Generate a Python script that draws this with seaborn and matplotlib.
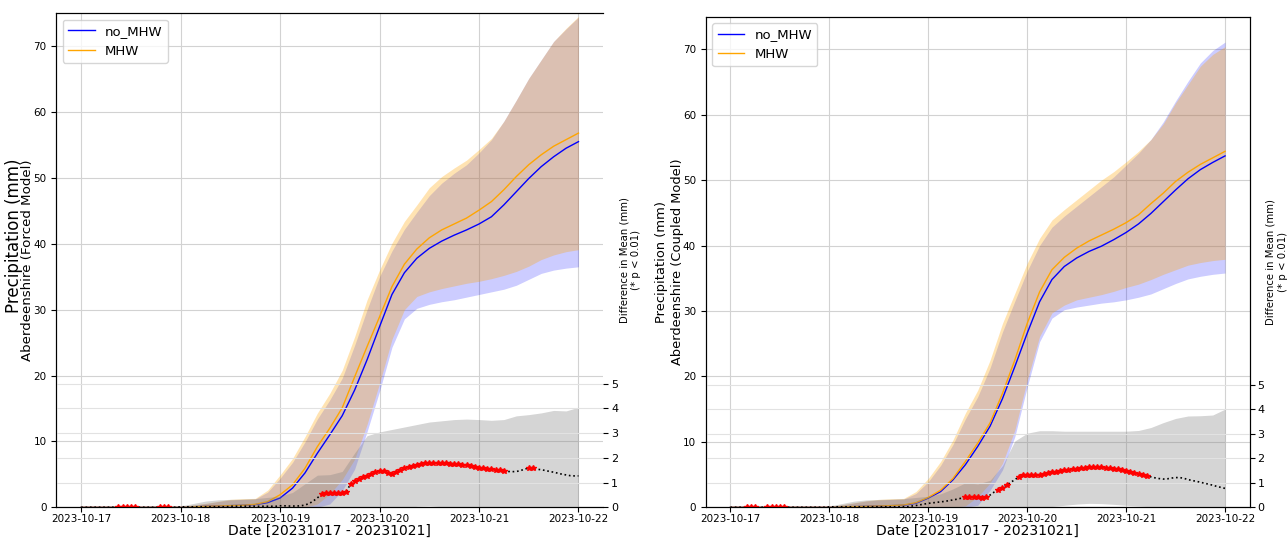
import numpy as np
import pandas as pd
import matplotlib
matplotlib.use('Agg')
import matplotlib.pyplot as plt
import matplotlib.dates as mdates
import seaborn as sns

# time axes: 3-hourly for the ensemble curves, hourly for the difference series
times_3h = pd.date_range('2023-10-17 00:00', '2023-10-22 00:00', freq='3h')
times_1h = pd.date_range('2023-10-17 00:00', '2023-10-22 00:00', freq='h')

Z8 = [0.0] * 8  # 10-17 00:00 .. 10-17 21:00, nothing accumulated yet

# ---- Forced model (left) ----
forced_nomhw_mean = Z8 + [0.0, 0.05, 0.15, 0.2, 0.25, 0.3, 0.4, 0.7,
                          1.4, 2.9, 5.2, 8.2, 11.0, 13.9, 17.8, 22.4,
                          27.4, 32.3, 35.6, 37.8, 39.3, 40.4, 41.3, 42.1,
                          43.0, 44.1, 45.9, 47.9, 49.9, 51.7, 53.2, 54.5, 55.5]
forced_nomhw_lo = Z8 + [0.0, 0.0, 0.0, 0.0, 0.0, 0.0, 0.0, 0.0,
                        0.0, 0.0, 0.0, 0.0, 0.5, 2.5, 5.8, 11.5,
                        17.6, 24.3, 28.6, 30.2, 30.8, 31.2, 31.5, 31.9,
                        32.3, 32.7, 33.1, 33.7, 34.6, 35.5, 36.0, 36.3, 36.5]
forced_nomhw_hi = Z8 + [0.1, 0.3, 0.55, 0.85, 1.1, 1.2, 1.25, 2.3,
                        4.4, 6.8, 9.9, 13.4, 16.3, 19.6, 24.6, 30.0,
                        35.0, 38.9, 42.2, 44.8, 47.3, 49.2, 50.7, 52.0,
                        53.8, 55.8, 58.6, 61.8, 65.1, 67.9, 70.7, 72.6, 74.4]
forced_mhw_mean = Z8 + [0.0, 0.05, 0.15, 0.2, 0.25, 0.3, 0.45, 0.85,
                        1.9, 3.4, 5.9, 9.2, 12.0, 15.1, 19.8, 24.4,
                        28.9, 33.5, 36.9, 39.2, 40.9, 42.1, 43.0, 43.9,
                        45.1, 46.4, 48.2, 50.2, 52.0, 53.5, 54.8, 55.8, 56.8]
forced_mhw_lo = Z8 + [0.0, 0.0, 0.0, 0.0, 0.0, 0.0, 0.0, 0.0,
                      0.0, 0.0, 0.0, 0.5, 2.0, 4.2, 7.3, 12.6,
                      18.8, 25.5, 30.0, 32.0, 32.7, 33.2, 33.6, 34.0,
                      34.3, 34.7, 35.2, 35.8, 36.6, 37.6, 38.3, 38.8, 39.1]
forced_mhw_hi = Z8 + [0.1, 0.35, 0.6, 0.9, 1.2, 1.3, 1.35, 2.6,
                      4.9, 7.4, 10.7, 14.3, 17.3, 20.8, 25.9, 31.5,
                      36.0, 40.1, 43.4, 45.9, 48.5, 50.2, 51.5, 52.7,
                      54.3, 56.0, 58.6, 61.8, 65.1, 67.9, 70.7, 72.7, 74.5]
forced_diff_lo = Z8 + [-0.3, -0.3, -0.3, -0.3, -0.3, -0.3, -0.3, -0.3,
                       -0.3, -0.3, -0.3, -0.3, -0.3, -0.3, -0.3, -0.3,
                       -0.3, -0.3, -0.05, 0.04, 0.06, 0.02, -0.1, -0.3,
                       -0.3, -0.3, -0.3, -0.3, -0.3, -0.3, -0.3, -0.3, -0.3]
forced_diff_hi = Z8 + [0.05, 0.15, 0.25, 0.3, 0.32, 0.33, 0.35, 0.4,
                       0.45, 0.6, 0.95, 1.3, 1.32, 1.45, 2.2, 2.9,
                       3.05, 3.15, 3.25, 3.35, 3.45, 3.5, 3.55, 3.57,
                       3.55, 3.52, 3.55, 3.7, 3.75, 3.82, 3.92, 3.9, 4.05]
forced_diff = ([0.0] * 24 + [0.02] * 12 + [0.04] * 12
               + [0.06, 0.06, 0.05, 0.05, 0.05, 0.06, 0.09, 0.15, 0.25, 0.38]
               + [0.52, 0.56, 0.58, 0.58, 0.57, 0.58, 0.62]
               + [0.95, 1.05, 1.15, 1.22, 1.26, 1.33, 1.42, 1.48, 1.45, 1.38,
                  1.36, 1.42, 1.50, 1.58, 1.64]
               + [1.69, 1.73, 1.76, 1.78, 1.79, 1.80, 1.80, 1.79, 1.78, 1.77,
                  1.76, 1.74, 1.72, 1.70, 1.67, 1.64]
               + [1.60, 1.58, 1.55, 1.53, 1.51, 1.49, 1.47, 1.45, 1.44, 1.45,
                  1.48, 1.55, 1.58, 1.57, 1.54, 1.52, 1.49, 1.45, 1.42, 1.38,
                  1.34, 1.31, 1.28, 1.27, 1.27])
forced_sig = [(9, 13), (19, 21), (58, 102), (108, 109)]

# ---- Coupled model (right) ----
coupled_nomhw_mean = Z8 + [0.0, 0.05, 0.1, 0.15, 0.2, 0.25, 0.3, 0.6,
                           1.4, 2.4, 4.2, 6.5, 9.3, 12.4, 16.6, 21.5,
                           26.6, 31.4, 34.8, 36.8, 38.1, 39.1, 39.9, 40.9,
                           42.0, 43.3, 44.9, 46.7, 48.5, 50.2, 51.6, 52.7, 53.7]
coupled_nomhw_lo = Z8 + [0.0, 0.0, 0.0, 0.0, 0.0, 0.0, 0.0, 0.0,
                         0.0, 0.0, 0.0, 0.0, 0.3, 2.6, 5.7, 10.8,
                         18.4, 25.3, 28.9, 30.2, 30.6, 30.9, 31.2, 31.4,
                         31.7, 32.1, 32.6, 33.4, 34.2, 34.9, 35.3, 35.6, 35.8]
coupled_nomhw_hi = Z8 + [0.1, 0.35, 0.65, 0.95, 1.1, 1.2, 1.25, 2.1,
                         3.9, 6.4, 9.6, 13.5, 16.9, 21.3, 26.8, 31.5,
                         36.1, 40.0, 42.8, 44.5, 46.0, 47.5, 49.0, 50.5,
                         52.3, 54.1, 56.2, 58.9, 62.1, 65.1, 67.9, 69.8, 71.1]
coupled_mhw_mean = Z8 + [0.0, 0.05, 0.1, 0.15, 0.2, 0.25, 0.35, 0.7,
                         1.5, 2.6, 4.4, 7.0, 9.8, 12.9, 17.4, 22.5,
                         28.1, 32.9, 36.3, 38.2, 39.6, 40.7, 41.6, 42.5,
                         43.5, 44.7, 46.4, 48.0, 49.8, 51.2, 52.4, 53.4, 54.4]
coupled_mhw_lo = Z8 + [0.0, 0.0, 0.0, 0.0, 0.0, 0.0, 0.0, 0.0,
                       0.0, 0.0, 0.0, 0.2, 1.6, 3.7, 6.7, 11.8,
                       19.4, 26.1, 29.7, 30.9, 31.7, 32.1, 32.5, 33.0,
                       33.6, 34.1, 34.8, 35.6, 36.3, 37.0, 37.4, 37.7, 37.9]
coupled_mhw_hi = Z8 + [0.1, 0.4, 0.7, 1.0, 1.2, 1.3, 1.35, 2.4,
                       4.4, 7.0, 10.3, 14.4, 17.9, 22.5, 28.1, 32.7,
                       37.3, 41.1, 43.9, 45.5, 47.0, 48.5, 50.0, 51.3,
                       52.8, 54.4, 56.2, 58.6, 61.8, 64.6, 67.4, 69.2, 70.4]
coupled_diff_lo = Z8 + [-0.3, -0.3, -0.3, -0.3, -0.3, -0.3, -0.3, -0.3,
                        -0.3, -0.3, -0.3, -0.3, -0.3, -0.3, -0.3, -0.3,
                        -0.3, -0.1, 0.03, 0.08, 0.13, 0.16, 0.15, 0.12,
                        0.08, 0.05, 0.02, -0.05, -0.3, -0.3, -0.3, -0.3, -0.3]
coupled_diff_hi = Z8 + [0.05, 0.15, 0.25, 0.3, 0.32, 0.33, 0.35, 0.4,
                        0.45, 0.55, 0.75, 1.0, 0.95, 1.1, 1.7, 2.7,
                        3.02, 3.12, 3.12, 3.1, 3.1, 3.1, 3.1, 3.1,
                        3.1, 3.13, 3.25, 3.45, 3.62, 3.72, 3.73, 3.76, 4.0]
coupled_diff = ([0.0] * 24 + [0.02] * 20
                + [0.05, 0.07, 0.10, 0.13, 0.16, 0.18, 0.20, 0.22, 0.24, 0.27,
                   0.30, 0.33, 0.37]
                + [0.40, 0.42, 0.43, 0.40, 0.38, 0.40]
                + [0.50, 0.62, 0.70, 0.80, 0.90, 1.02, 1.12]
                + [1.25, 1.31, 1.33, 1.33, 1.32, 1.33, 1.36, 1.39, 1.42, 1.44]
                + [1.47, 1.50, 1.53, 1.56, 1.58, 1.60, 1.62, 1.63, 1.63, 1.63,
                   1.63, 1.62, 1.60, 1.58, 1.56, 1.53]
                + [1.48, 1.44, 1.40, 1.36, 1.32, 1.27, 1.24, 1.20, 1.17, 1.15,
                   1.16, 1.19, 1.21, 1.21, 1.18, 1.13, 1.09, 1.06, 1.02, 0.98,
                   0.94, 0.90, 0.85, 0.81, 0.77])
coupled_sig = [(4, 6), (9, 13), (57, 62), (65, 67), (70, 101)]


def draw_panel(ax, nomhw, nomhw_lo, nomhw_hi, mhw, mhw_lo, mhw_hi,
               diff, diff_lo, diff_hi, sig):
    ax.set_axisbelow(True)
    ax.fill_between(times_3h, nomhw_lo, nomhw_hi, color='blue', alpha=0.2, lw=0)
    ax.fill_between(times_3h, mhw_lo, mhw_hi, color='orange', alpha=0.3, lw=0)
    sns.lineplot(x=times_3h, y=nomhw, color='blue', lw=1, label='no_MHW', ax=ax)
    sns.lineplot(x=times_3h, y=mhw, color='orange', lw=1, label='MHW', ax=ax)
    ax.set_ylim(0, 75)
    ax.set_yticks(range(0, 71, 10))
    ax.grid(True, color='#d2d2d2', lw=0.8)
    ax.legend(loc='upper left', fontsize=9.5)

    ax2 = ax.twinx()
    ax2.fill_between(times_3h, diff_lo, diff_hi, color='grey', alpha=0.33, lw=0)
    sns.lineplot(x=times_1h, y=diff, color='black', ls=':', lw=1.2, ax=ax2)
    mask = np.zeros(len(times_1h), dtype=bool)
    for a, b in sig:
        mask[a:b + 1] = True
    ax2.plot(times_1h[mask], np.array(diff)[mask], ls='none', marker='*',
             color='red', ms=4)
    ax2.set_ylim(0, 20)
    ax2.set_yticks(range(0, 6))
    ax2.grid(True, color='#e2e2e2', lw=0.8)
    ax2.set_ylabel('Difference in Mean (mm)\n(* p < 0.01)', fontsize=7.3, labelpad=1)
    ax2.tick_params(labelsize=8, pad=2)

    ax.set_xlim(times_3h[0] - pd.Timedelta(hours=6), times_3h[-1] + pd.Timedelta(hours=6))
    ax.xaxis.set_major_locator(mdates.DayLocator())
    ax.xaxis.set_major_formatter(mdates.DateFormatter('%Y-%m-%d'))
    ax.tick_params(axis='x', labelsize=7.5, pad=1.5)
    ax.tick_params(axis='y', labelsize=7.5)
    ax.set_xlabel('Date [20231017 - 20231021]', fontsize=10, labelpad=0)
    ax.set_ylabel('')
    return ax2


fig = plt.figure(figsize=(12.87, 5.4), dpi=100)
ax_l = fig.add_axes([0.0437, 0.0606, 0.4251, 0.915])
ax_r = fig.add_axes([0.5483, 0.0606, 0.4228, 0.9088])

ax_l2 = draw_panel(ax_l, forced_nomhw_mean, forced_nomhw_lo, forced_nomhw_hi,
                   forced_mhw_mean, forced_mhw_lo, forced_mhw_hi,
                   forced_diff, forced_diff_lo, forced_diff_hi, forced_sig)
ax_r2 = draw_panel(ax_r, coupled_nomhw_mean, coupled_nomhw_lo, coupled_nomhw_hi,
                   coupled_mhw_mean, coupled_mhw_lo, coupled_mhw_hi,
                   coupled_diff, coupled_diff_lo, coupled_diff_hi, coupled_sig)

# left panel has no visible right frame line
ax_l.spines['right'].set_visible(False)
ax_l2.spines['right'].set_visible(False)

# two-line y labels
ax_l.text(-0.0777, 0.706, 'Precipitation (mm)', rotation=90, fontsize=12,
          ha='center', va='top', transform=ax_l.transAxes)
ax_l.text(-0.0523, 0.5, 'Aberdeenshire (Forced Model)', rotation=90, fontsize=9.6,
          ha='center', va='center', transform=ax_l.transAxes)
ax_r.text(-0.082, 0.5, 'Precipitation (mm)', rotation=90, fontsize=9.4,
          ha='center', va='center', transform=ax_r.transAxes)
ax_r.text(-0.0526, 0.5, 'Aberdeenshire (Coupled Model)', rotation=90, fontsize=9.4,
          ha='center', va='center', transform=ax_r.transAxes)

fig.savefig('out.png', dpi=100)
